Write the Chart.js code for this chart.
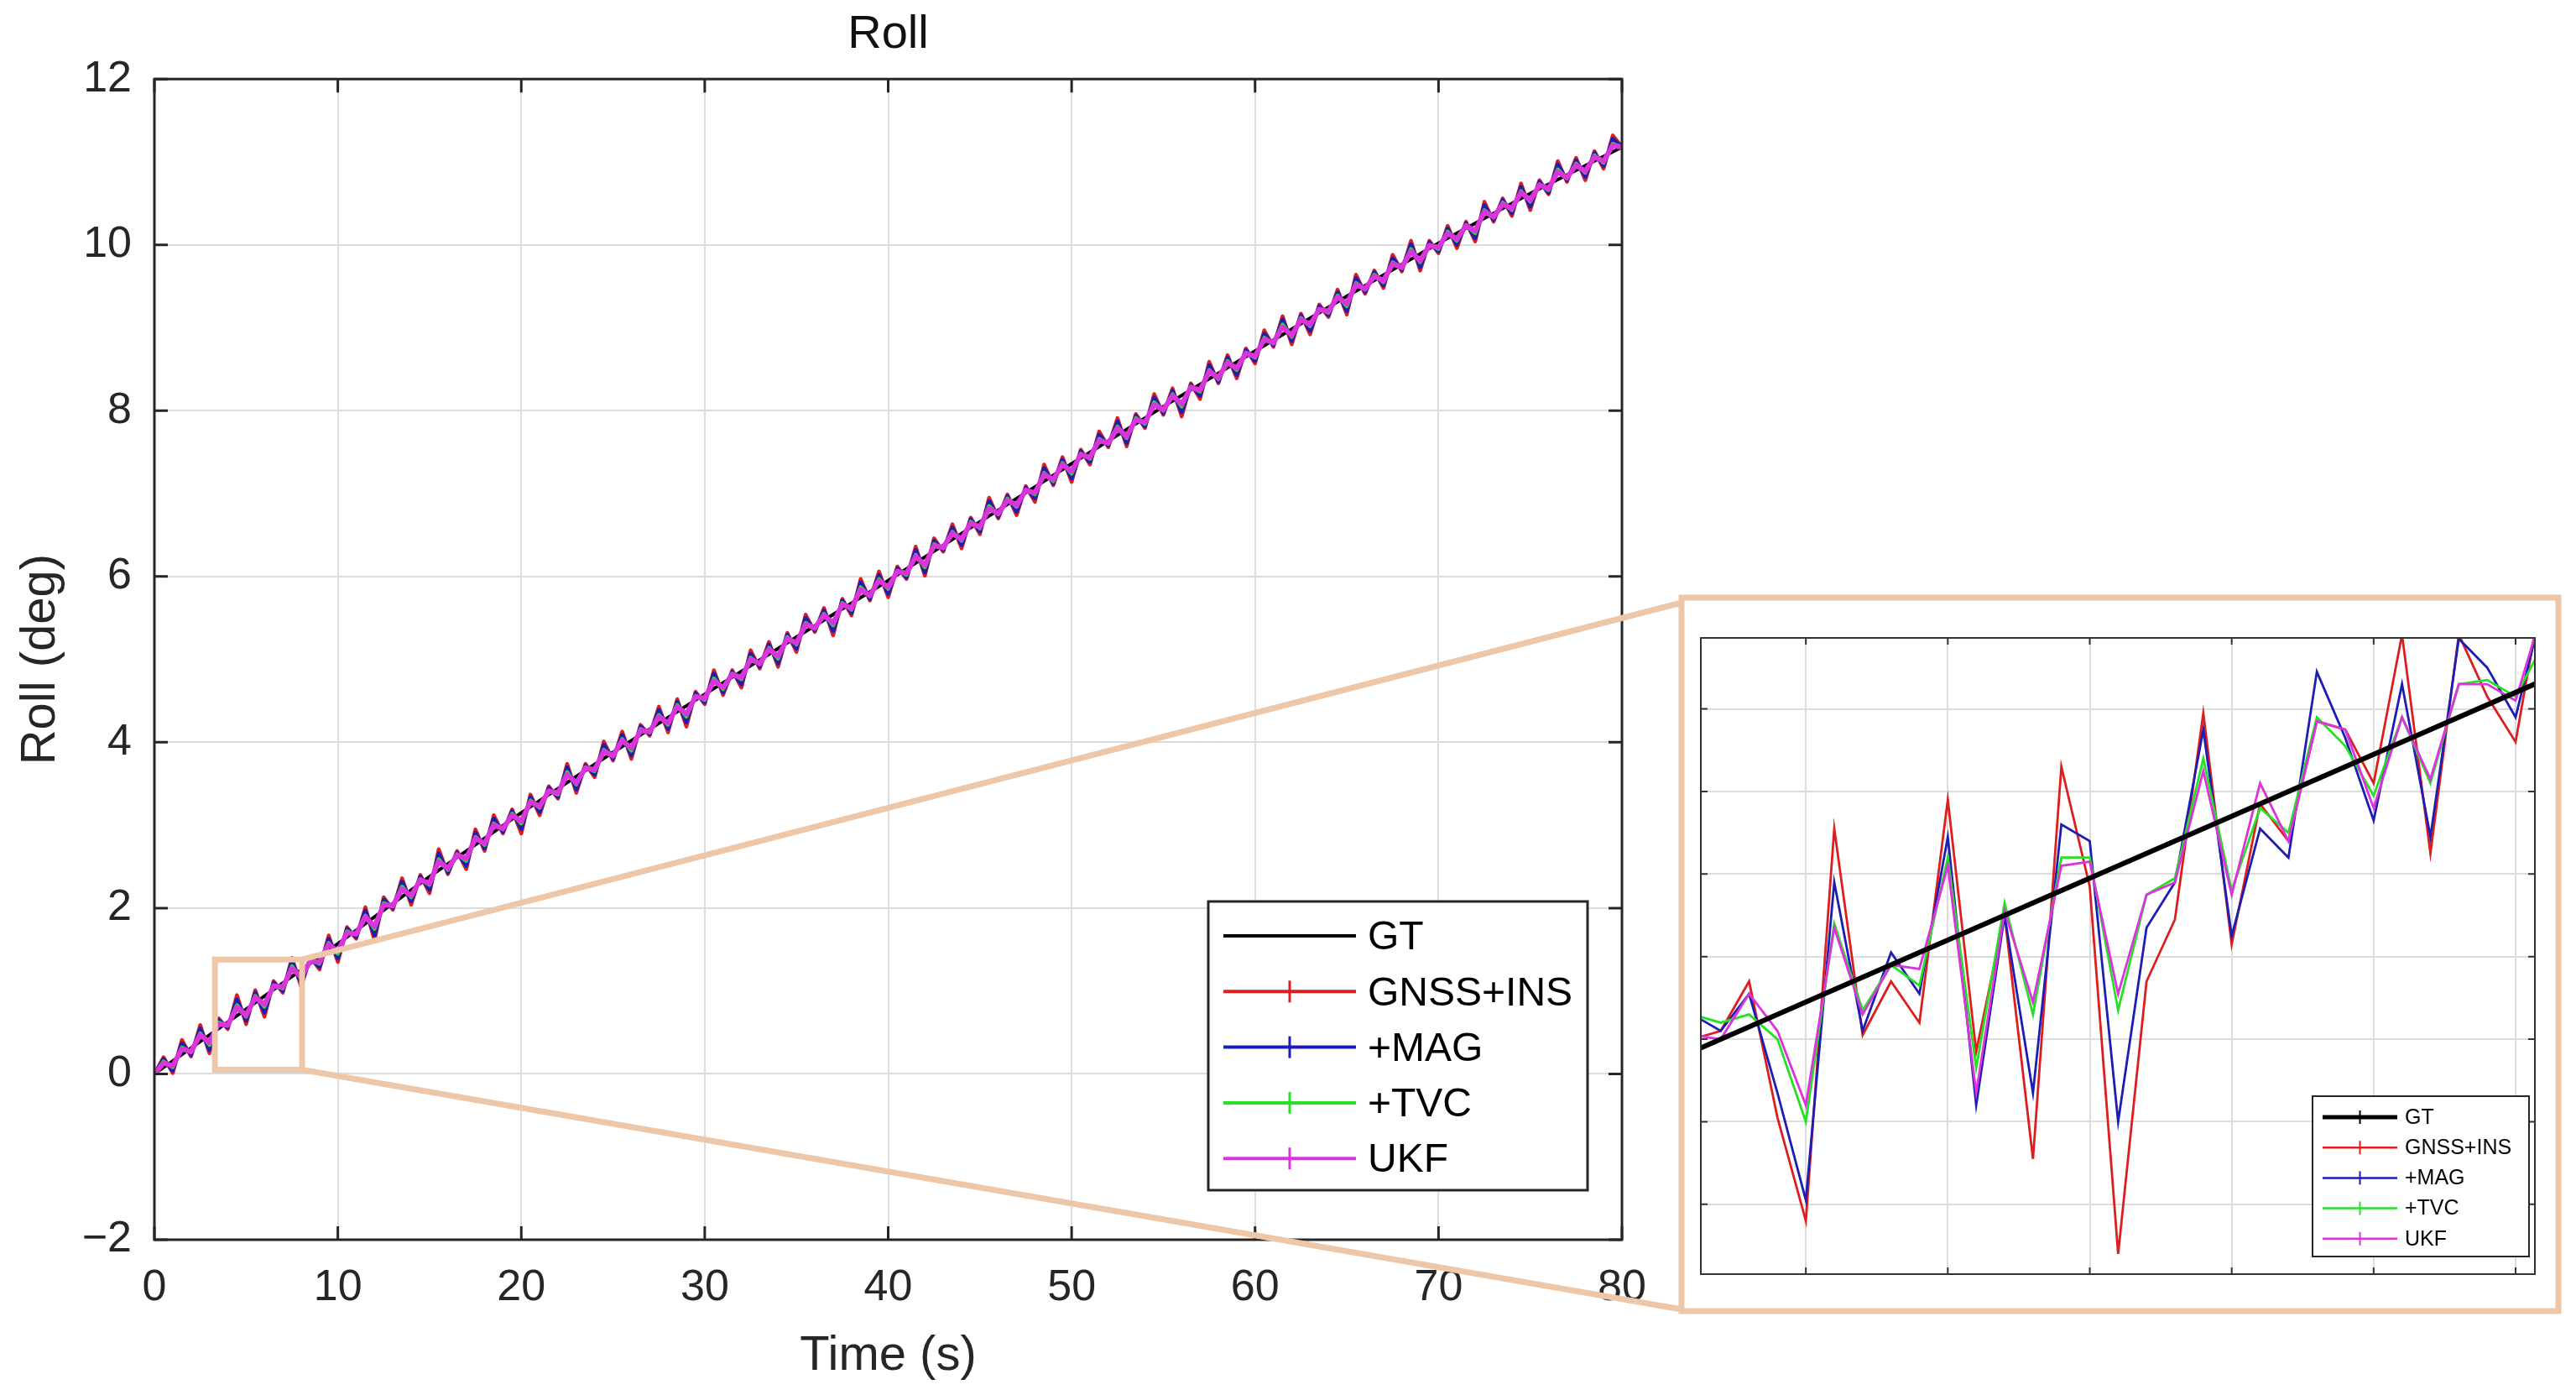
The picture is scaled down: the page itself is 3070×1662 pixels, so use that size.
<!DOCTYPE html>
<html lang="en">
<head>
  <meta charset="UTF-8" />
  <title>Roll</title>
  <script src="https://cdn.jsdelivr.net/npm/chart.js"></script>
  <style>
    html, body { margin: 0; padding: 0; background: #fff; }
    body { width: 3070px; height: 1662px; position: relative; overflow: hidden; }
    #main { position: absolute; left: 0; top: 0; }
    #inset { position: absolute; left: 2017px; top: 750px; }
  </style>
</head>
<body>
  <canvas id="main" width="3070" height="1662"></canvas>
  <canvas id="inset" width="1014" height="778"></canvas>

  <script>
    // Main plot: ground truth (s, deg)
    const gtTime = [0, 5, 10, 15, 20, 25, 30, 35, 40, 45, 50, 55, 60, 65, 70, 75, 80];
    const gtRoll = [0.00, 0.78, 1.57, 2.38, 3.15, 3.88, 4.58, 5.27, 5.95, 6.66, 7.36, 8.05, 8.72, 9.38, 10.02, 10.62, 11.18];

    // Estimates, one sample every 0.5 s from 0 to 80 s
    const sampleStep = 0.5;
    const gnssIns = [
      0.00, 0.20, 0.01, 0.41, 0.21, 0.59, 0.25, 0.67, 0.54, 0.95,
      0.60, 1.01, 0.69, 1.12, 0.98, 1.40, 1.05, 1.41, 1.26, 1.67,
      1.35, 1.77, 1.63, 2.01, 1.61, 2.13, 1.98, 2.36, 2.04, 2.40,
      2.18, 2.71, 2.41, 2.69, 2.47, 2.95, 2.69, 3.12, 2.90, 3.19,
      2.90, 3.37, 3.12, 3.47, 3.32, 3.74, 3.39, 3.74, 3.58, 4.01,
      3.78, 4.13, 3.80, 4.21, 4.08, 4.43, 4.12, 4.52, 4.19, 4.61,
      4.46, 4.87, 4.57, 4.87, 4.66, 5.11, 4.89, 5.21, 4.91, 5.32,
      5.09, 5.54, 5.33, 5.62, 5.29, 5.73, 5.53, 5.97, 5.71, 6.06,
      5.75, 6.12, 5.97, 6.36, 6.01, 6.46, 6.30, 6.63, 6.34, 6.71,
      6.51, 6.95, 6.70, 6.99, 6.74, 7.09, 6.90, 7.35, 7.10, 7.44,
      7.14, 7.53, 7.35, 7.75, 7.56, 7.91, 7.57, 7.96, 7.79, 8.20,
      7.95, 8.27, 7.93, 8.33, 8.14, 8.59, 8.33, 8.67, 8.39, 8.75,
      8.57, 8.97, 8.77, 9.14, 8.80, 9.17, 8.92, 9.28, 9.13, 9.46,
      9.16, 9.64, 9.41, 9.69, 9.48, 9.88, 9.68, 10.05, 9.69, 10.05,
      9.90, 10.23, 9.96, 10.28, 10.04, 10.52, 10.28, 10.56, 10.35, 10.74,
      10.42, 10.78, 10.61, 11.01, 10.76, 11.05, 10.78, 11.13, 10.92, 11.32,
      11.18
    ];
    const mag = [
      0.00, 0.18, 0.04, 0.37, 0.23, 0.55, 0.29, 0.65, 0.56, 0.90,
      0.64, 0.98, 0.74, 1.10, 1.00, 1.36, 1.09, 1.39, 1.29, 1.63,
      1.39, 1.75, 1.65, 1.97, 1.67, 2.10, 2.00, 2.32, 2.08, 2.38,
      2.22, 2.66, 2.43, 2.67, 2.51, 2.91, 2.72, 3.08, 2.92, 3.17,
      2.95, 3.34, 3.16, 3.45, 3.34, 3.70, 3.43, 3.72, 3.61, 3.97,
      3.80, 4.09, 3.84, 4.19, 4.10, 4.39, 4.16, 4.49, 4.24, 4.59,
      4.48, 4.83, 4.60, 4.85, 4.70, 5.07, 4.91, 5.18, 4.95, 5.30,
      5.13, 5.50, 5.35, 5.59, 5.34, 5.71, 5.56, 5.93, 5.73, 6.02,
      5.79, 6.10, 5.99, 6.32, 6.05, 6.43, 6.32, 6.59, 6.38, 6.69,
      6.54, 6.91, 6.72, 6.97, 6.78, 7.07, 6.94, 7.31, 7.12, 7.41,
      7.18, 7.51, 7.38, 7.71, 7.58, 7.87, 7.61, 7.94, 7.81, 8.16,
      7.97, 8.24, 7.98, 8.31, 8.18, 8.55, 8.35, 8.64, 8.43, 8.73,
      8.60, 8.93, 8.79, 9.10, 8.84, 9.15, 8.96, 9.26, 9.15, 9.43,
      9.20, 9.60, 9.43, 9.67, 9.51, 9.84, 9.70, 10.01, 9.73, 10.03,
      9.92, 10.20, 10.00, 10.26, 10.08, 10.48, 10.30, 10.54, 10.38, 10.70,
      10.46, 10.76, 10.63, 10.97, 10.78, 11.02, 10.82, 11.11, 10.95, 11.28,
      11.18
    ];
    const tvc = [
      0.00, 0.15, 0.08, 0.32, 0.26, 0.49, 0.35, 0.62, 0.58, 0.83,
      0.69, 0.94, 0.81, 1.07, 1.03, 1.30, 1.15, 1.37, 1.33, 1.58,
      1.45, 1.72, 1.68, 1.91, 1.75, 2.06, 2.02, 2.26, 2.13, 2.35,
      2.28, 2.59, 2.46, 2.65, 2.57, 2.86, 2.76, 3.02, 2.95, 3.14,
      3.02, 3.30, 3.21, 3.42, 3.37, 3.64, 3.49, 3.70, 3.65, 3.91,
      3.83, 4.04, 3.90, 4.16, 4.12, 4.33, 4.21, 4.45, 4.31, 4.56,
      4.51, 4.77, 4.64, 4.83, 4.76, 5.02, 4.94, 5.14, 5.01, 5.27,
      5.18, 5.44, 5.37, 5.55, 5.41, 5.68, 5.60, 5.87, 5.76, 5.97,
      5.85, 6.07, 6.02, 6.26, 6.11, 6.39, 6.34, 6.54, 6.43, 6.66,
      6.58, 6.85, 6.75, 6.94, 6.84, 7.05, 6.99, 7.25, 7.15, 7.37,
      7.24, 7.48, 7.42, 7.66, 7.60, 7.81, 7.67, 7.91, 7.84, 8.10,
      8.00, 8.20, 8.05, 8.29, 8.23, 8.49, 8.38, 8.60, 8.49, 8.70,
      8.64, 8.88, 8.81, 9.04, 8.89, 9.12, 9.02, 9.23, 9.18, 9.39,
      9.26, 9.54, 9.46, 9.64, 9.55, 9.79, 9.72, 9.95, 9.79, 10.00,
      9.95, 10.16, 10.05, 10.24, 10.14, 10.42, 10.33, 10.51, 10.42, 10.65,
      10.52, 10.73, 10.66, 10.91, 10.80, 10.98, 10.87, 11.08, 10.99, 11.22,
      11.18
    ];
    const ukf = [
      0.00, 0.13, 0.10, 0.30, 0.27, 0.47, 0.38, 0.60, 0.59, 0.80,
      0.71, 0.92, 0.84, 1.06, 1.05, 1.27, 1.17, 1.36, 1.35, 1.56,
      1.48, 1.70, 1.69, 1.89, 1.78, 2.04, 2.03, 2.23, 2.15, 2.34,
      2.30, 2.56, 2.48, 2.64, 2.60, 2.84, 2.78, 3.00, 2.96, 3.12,
      3.05, 3.28, 3.23, 3.41, 3.39, 3.61, 3.51, 3.69, 3.67, 3.89,
      3.84, 4.02, 3.93, 4.14, 4.13, 4.31, 4.23, 4.43, 4.34, 4.55,
      4.53, 4.74, 4.66, 4.82, 4.78, 5.00, 4.95, 5.12, 5.04, 5.25,
      5.20, 5.42, 5.38, 5.53, 5.44, 5.66, 5.62, 5.84, 5.77, 5.95,
      5.87, 6.06, 6.04, 6.24, 6.14, 6.37, 6.35, 6.52, 6.45, 6.64,
      6.60, 6.82, 6.76, 6.92, 6.86, 7.04, 7.01, 7.23, 7.17, 7.35,
      7.27, 7.47, 7.44, 7.64, 7.61, 7.79, 7.69, 7.89, 7.86, 8.07,
      8.01, 8.18, 8.08, 8.28, 8.25, 8.47, 8.40, 8.58, 8.51, 8.69,
      8.66, 8.86, 8.82, 9.01, 8.91, 9.10, 9.04, 9.22, 9.20, 9.37,
      9.29, 9.52, 9.47, 9.62, 9.57, 9.77, 9.73, 9.92, 9.81, 9.99,
      9.97, 10.14, 10.07, 10.23, 10.17, 10.40, 10.34, 10.49, 10.44, 10.63,
      10.54, 10.72, 10.68, 10.88, 10.81, 10.96, 10.89, 11.06, 11.01, 11.20,
      11.18
    ];

    // Zoomed window marked on the main plot (s, deg)
    const zoomTime = [3.3, 8.05];
    const zoomRoll = [0.05, 1.38];

    // Inset: zoomed samples
    const insetSample = [1, 2, 3, 4, 5, 6, 7, 8, 9, 10, 11, 12, 13, 14, 15, 16, 17, 18, 19, 20, 21, 22, 23, 24, 25, 26, 27, 28, 29, 30, 31];
    const insetGtSample = [1, 6, 11, 16, 21, 26, 31];
    const insetGt = [0.57, 0.72, 0.87, 1.02, 1.17, 1.32, 1.47];
    const insetGnssIns = [0.60, 0.62, 0.74, 0.41, 0.16, 1.11, 0.61, 0.74, 0.64, 1.18,
      0.57, 0.90, 0.31, 1.26, 0.97, 0.08, 0.74, 0.89, 1.39, 0.83,
      1.17, 1.08, 1.37, 1.35, 1.22, 1.58, 1.05, 1.58, 1.43, 1.32, 1.71];
    const insetMag = [0.66, 0.62, 0.71, 0.47, 0.21, 0.98, 0.62, 0.81, 0.71, 1.09,
      0.44, 0.90, 0.47, 1.12, 1.08, 0.40, 0.87, 0.98, 1.35, 0.85,
      1.11, 1.04, 1.49, 1.33, 1.13, 1.46, 1.09, 1.57, 1.50, 1.38, 1.66];
    const insetTvc = [0.66, 0.64, 0.66, 0.60, 0.40, 0.88, 0.67, 0.78, 0.73, 1.04,
      0.53, 0.93, 0.66, 1.04, 1.04, 0.67, 0.95, 0.99, 1.28, 0.96,
      1.16, 1.10, 1.38, 1.31, 1.19, 1.38, 1.22, 1.46, 1.47, 1.43, 1.56];
    const insetUkf = [0.61, 0.60, 0.71, 0.62, 0.44, 0.87, 0.66, 0.78, 0.77, 1.02,
      0.47, 0.91, 0.69, 1.02, 1.03, 0.71, 0.95, 0.98, 1.25, 0.95,
      1.22, 1.08, 1.37, 1.35, 1.16, 1.38, 1.23, 1.46, 1.46, 1.42, 1.65];
    const insetSampleTicks = [5, 10, 15, 20, 25, 30];
    const insetRollTicks = [0.2, 0.4, 0.6, 0.8, 1.0, 1.2, 1.4];

    const labels = ['GT', 'GNSS+INS', '+MAG', '+TVC', 'UKF'];
    const colors = ['#000000', '#dd1e1e', '#1d1db4', '#25e025', '#dc34dc'];

    const FONT = "'Liberation Sans', Arial, Helvetica, sans-serif";
    Chart.defaults.font.family = FONT;
    Chart.defaults.color = '#262626';

    const pts = (xs, ys) => ys.map((v, i) => ({ x: xs[i], y: v }));
    const sampled = ys => ys.map((v, i) => ({ x: i * sampleStep, y: v }));

    // MATLAB style box with inward ticks
    const boxAndTicks = {
      id: 'boxAndTicks',
      afterDatasetsDraw(chart, args, o) {
        const { ctx, chartArea: a, scales: { x, y } } = chart;
        ctx.save();
        ctx.strokeStyle = o.color;
        ctx.lineWidth = o.width;
        ctx.beginPath();
        x.ticks.forEach(t => {
          const px = x.getPixelForValue(t.value);
          ctx.moveTo(px, a.bottom); ctx.lineTo(px, a.bottom - o.len);
          ctx.moveTo(px, a.top); ctx.lineTo(px, a.top + o.len);
        });
        y.ticks.forEach(t => {
          const py = y.getPixelForValue(t.value);
          ctx.moveTo(a.left, py); ctx.lineTo(a.left + o.len, py);
          ctx.moveTo(a.right, py); ctx.lineTo(a.right - o.len, py);
        });
        ctx.stroke();
        ctx.strokeRect(a.left, a.top, a.right - a.left, a.bottom - a.top);
        ctx.restore();
      }
    };

    // Legend box in the lower right corner of the axes
    const boxLegend = {
      id: 'boxLegend',
      afterDraw(chart, args, o) {
        const { ctx, chartArea: a } = chart;
        const x0 = a.right - o.right - o.width;
        const y0 = a.bottom - o.bottom - o.height;
        ctx.save();
        ctx.fillStyle = '#fff';
        ctx.fillRect(x0, y0, o.width, o.height);
        ctx.strokeStyle = '#262626';
        ctx.lineWidth = o.frame;
        ctx.strokeRect(x0, y0, o.width, o.height);
        ctx.font = o.fontSize + 'px ' + FONT;
        ctx.textBaseline = 'middle';
        chart.data.datasets.forEach((ds, i) => {
          const yy = y0 + o.first + i * o.gap;
          ctx.strokeStyle = ds.borderColor;
          ctx.lineWidth = o.lineWidths[i];
          ctx.beginPath();
          ctx.moveTo(x0 + o.s0, yy);
          ctx.lineTo(x0 + o.s1, yy);
          ctx.stroke();
          if (o.markers[i]) {
            const mx = x0 + (o.s0 + o.s1) / 2;
            ctx.lineWidth = o.markWidth;
            ctx.beginPath();
            ctx.moveTo(mx, yy - o.markHalf);
            ctx.lineTo(mx, yy + o.markHalf);
            ctx.stroke();
          }
          ctx.fillStyle = '#000';
          ctx.fillText(ds.label, x0 + o.textX, yy + o.textDy);
        });
        ctx.restore();
      }
    };

    // Zoom box and the lines leading to the inset frame
    const zoomOverlay = {
      id: 'zoomOverlay',
      afterDraw(chart, args, o) {
        const { ctx, scales: { x, y } } = chart;
        const l = x.getPixelForValue(zoomTime[0]), r = x.getPixelForValue(zoomTime[1]);
        const t = y.getPixelForValue(zoomRoll[1]), b = y.getPixelForValue(zoomRoll[0]);
        const f = o.frame;
        ctx.save();
        ctx.strokeStyle = o.color;
        ctx.lineWidth = o.width;
        ctx.beginPath();
        ctx.moveTo(r, t); ctx.lineTo(f.left, f.top + 6);
        ctx.moveTo(r, b); ctx.lineTo(f.left, f.bottom - 2);
        ctx.stroke();
        ctx.strokeRect(l, t, r - l, b - t);
        ctx.strokeRect(f.left, f.top, f.right - f.left, f.bottom - f.top);
        ctx.restore();
      }
    };

    const mainSeries = [gnssIns, mag, tvc, ukf];
    const mainOrder = [4, 3, 2, 1, 0];
    const mainWidths = [4, 4.5, 4.5, 4.5, 6];

    new Chart(document.getElementById('main'), {
      type: 'line',
      data: {
        datasets: [
          { label: labels[0], data: pts(gtTime, gtRoll), borderColor: colors[0], borderWidth: mainWidths[0], order: mainOrder[0] },
          ...mainSeries.map((s, i) => ({
            label: labels[i + 1], data: sampled(s), borderColor: colors[i + 1],
            borderWidth: mainWidths[i + 1], order: mainOrder[i + 1]
          }))
        ]
      },
      options: {
        responsive: false,
        animation: false,
        events: [],
        elements: { point: { radius: 0 }, line: { tension: 0, borderJoinStyle: 'round' } },
        layout: { padding: { left: 0, top: 0, right: 1137, bottom: 0 } },
        plugins: {
          legend: { display: false },
          tooltip: { enabled: false },
          title: {
            display: true, text: 'Roll', fullSize: false, color: '#111',
            font: { size: 56, weight: 'normal' }, padding: { top: 8, bottom: 19 }
          },
          boxAndTicks: { color: '#262626', width: 3, len: 16 },
          boxLegend: {
            right: 41, bottom: 59, width: 452, height: 344, frame: 3,
            first: 41, gap: 66.3, s0: 18, s1: 176, textX: 190, textDy: 3, fontSize: 48,
            lineWidths: [4, 4, 4, 4, 4], markers: [false, true, true, true, true],
            markWidth: 3, markHalf: 13
          },
          zoomOverlay: {
            color: 'rgb(238, 198, 168)', width: 7,
            frame: { left: 2004, top: 712, right: 3049, bottom: 1562 }
          }
        },
        scales: {
          x: {
            type: 'linear', min: 0, max: 80,
            ticks: { stepSize: 10, font: { size: 52 }, padding: 26, color: '#262626', maxRotation: 0 },
            grid: { color: '#dcdcdc', lineWidth: 2, drawTicks: false },
            border: { display: false },
            title: { display: true, text: 'Time (s)', font: { size: 58 }, color: '#262626', padding: { top: 0, bottom: 11 } },
            afterFit: s => { s.height = 185; }
          },
          y: {
            type: 'linear', min: -2, max: 12,
            ticks: { stepSize: 2, font: { size: 52 }, padding: 27, color: '#262626',
              callback: v => String(v).replace('-', '\u2212') },
            grid: { color: '#dcdcdc', lineWidth: 2, drawTicks: false },
            border: { display: false },
            title: { display: true, text: 'Roll (deg)', font: { size: 58 }, color: '#262626', padding: { top: 14, bottom: 0 } },
            afterFit: s => { s.width = 184; }
          }
        }
      },
      plugins: [boxAndTicks, zoomOverlay, boxLegend]
    });

    const insetSeries = [insetGnssIns, insetMag, insetTvc, insetUkf];
    const insetOrder = [0, 4, 3, 2, 1];

    new Chart(document.getElementById('inset'), {
      type: 'line',
      data: {
        datasets: [
          { label: labels[0], data: pts(insetGtSample, insetGt), borderColor: colors[0], borderWidth: 6, order: insetOrder[0], clip: 0 },
          ...insetSeries.map((s, i) => ({
            label: labels[i + 1], data: pts(insetSample, s), borderColor: colors[i + 1], borderWidth: 2.8, order: insetOrder[i + 1], clip: 0
          }))
        ]
      },
      options: {
        responsive: false,
        animation: false,
        events: [],
        elements: { point: { radius: 0 }, line: { tension: 0 } },
        layout: { padding: 10 },
        plugins: {
          legend: { display: false },
          tooltip: { enabled: false },
          boxAndTicks: { color: '#333', width: 2, len: 8 },
          boxLegend: {
            right: 7, bottom: 21, width: 258, height: 191, frame: 2,
            first: 25, gap: 36.2, s0: 12, s1: 101, textX: 110, textDy: 1, fontSize: 25,
            lineWidths: [5, 2.5, 2.5, 2.5, 2.5], markers: [true, true, true, true, true],
            markWidth: 2, markHalf: 8
          }
        },
        scales: {
          x: {
            type: 'linear', min: 1.3, max: 30.68,
            afterBuildTicks: s => { s.ticks = insetSampleTicks.map(v => ({ value: v })); },
            ticks: { display: false },
            grid: { color: '#dcdcdc', lineWidth: 2, drawTicks: false },
            border: { display: false },
            afterFit: s => { s.height = 0; }
          },
          y: {
            type: 'linear', min: 0.031, max: 1.572,
            afterBuildTicks: s => { s.ticks = insetRollTicks.map(v => ({ value: v })); },
            ticks: { display: false },
            grid: { color: '#dcdcdc', lineWidth: 2, drawTicks: false },
            border: { display: false },
            afterFit: s => { s.width = 0; }
          }
        }
      },
      plugins: [boxAndTicks, boxLegend]
    });
  </script>
</body>
</html>
